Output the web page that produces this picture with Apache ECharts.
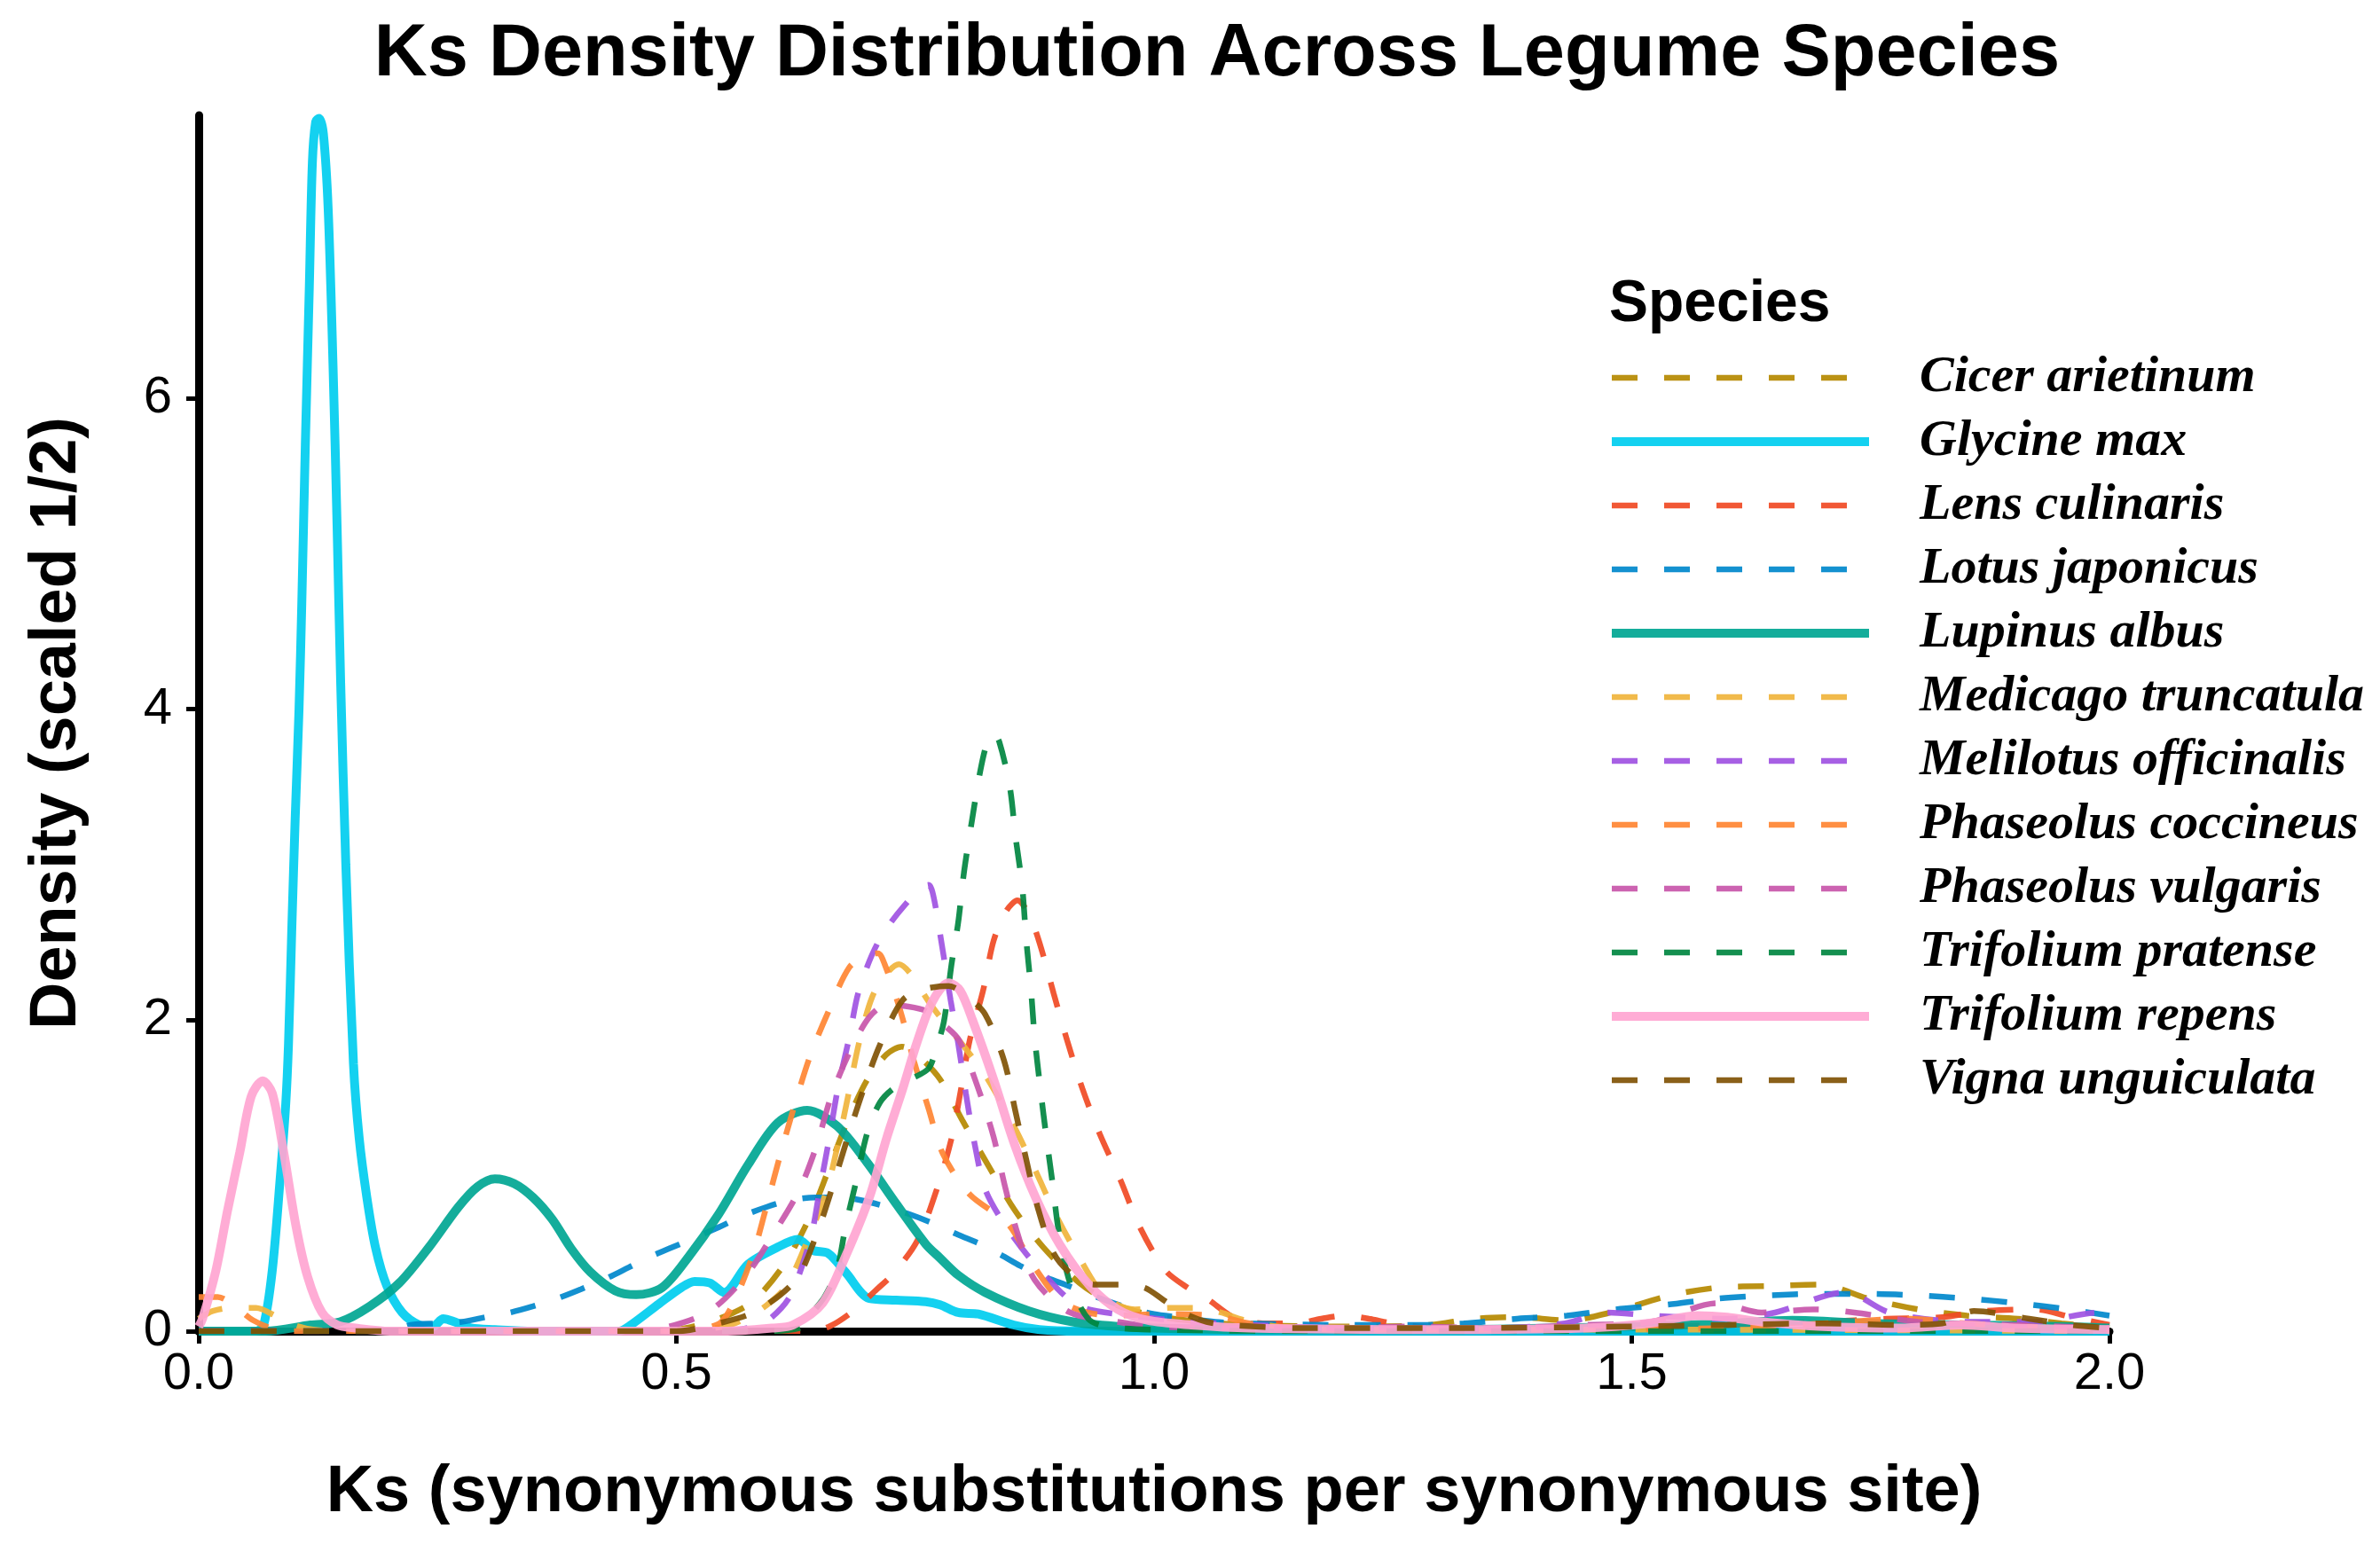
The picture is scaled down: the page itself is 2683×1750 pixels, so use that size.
<!DOCTYPE html>
<html>
<head>
<meta charset="utf-8">
<title>Ks Density Distribution Across Legume Species</title>
<script src="https://cdn.jsdelivr.net/npm/echarts@6/dist/echarts.min.js"></script>
<style>
  html, body { margin: 0; padding: 0; background: #fff; }
  #chart { width: 2683px; height: 1750px; }
</style>
</head>
<body>
<div id="chart"></div>
<script>
// species in legend order (alphabetical, same as drawing order)
const speciesNames = [
  'Cicer arietinum', 'Glycine max', 'Lens culinaris', 'Lotus japonicus',
  'Lupinus albus', 'Medicago truncatula', 'Melilotus officinalis',
  'Phaseolus coccineus', 'Phaseolus vulgaris', 'Trifolium pratense',
  'Trifolium repens', 'Vigna unguiculata'
];

const speciesColors = [
  '#B58900', '#00CDEF', '#F04A24', '#0088CC', '#00A693', '#F0B43C',
  '#A052E2', '#FF8533', '#C856AA', '#008540', '#FFA5D1', '#805205'
];

// solid lines for these, dashed for the rest
const solidSpecies = ['Glycine max', 'Lupinus albus', 'Trifolium repens'];

const xTickValues = [0, 0.5, 1.0, 1.5, 2.0];
const yTickValues = [0, 2, 4, 6];

// density curves: [Ks, density]
const cicerArietinum = [
  [0, 0], [0.45, 0], [0.5, 0.01], [0.535, 0.06], [0.56, 0.12], [0.582, 0.20], [0.614, 0.44],
  [0.64, 0.74], [0.66, 1.05], [0.679, 1.35], [0.70, 1.62], [0.72, 1.78], [0.736, 1.83],
  [0.755, 1.76], [0.776, 1.62], [0.799, 1.36], [0.826, 1.07], [0.854, 0.78], [0.884, 0.54],
  [0.922, 0.31], [0.956, 0.18], [1.0, 0.10], [1.05, 0.06], [1.1, 0.04], [1.2, 0.03],
  [1.289, 0.04], [1.334, 0.08], [1.38, 0.09], [1.432, 0.07], [1.478, 0.12], [1.54, 0.23],
  [1.59, 0.28], [1.642, 0.29], [1.698, 0.30], [1.747, 0.21], [1.80, 0.14], [1.851, 0.10],
  [1.904, 0.08], [1.95, 0.05], [2.0, 0.02]
];

const glycineMax = [
  [0, 0], [0.06, 0], [0.068, 0.04], [0.077, 0.39], [0.085, 0.96], [0.091, 1.45], [0.094, 1.85],
  [0.0975, 2.6], [0.101, 3.3], [0.105, 4.0], [0.1079, 4.68], [0.1116, 5.70], [0.1158, 6.72],
  [0.119, 7.52], [0.1225, 7.78], [0.126, 7.80], [0.1305, 7.70], [0.1355, 7.22], [0.1406, 6.21],
  [0.1448, 5.19], [0.1486, 4.17], [0.154, 3.0], [0.162, 1.72], [0.168, 1.24], [0.176, 0.86],
  [0.185, 0.54], [0.197, 0.29], [0.213, 0.12], [0.231, 0.04], [0.245, 0.03], [0.256, 0.08],
  [0.268, 0.06], [0.285, 0.02], [0.31, 0.01], [0.35, 0], [0.44, 0], [0.451, 0.034],
  [0.482, 0.177], [0.505, 0.28], [0.519, 0.32], [0.535, 0.31], [0.55, 0.25], [0.575, 0.43],
  [0.606, 0.54], [0.627, 0.59], [0.643, 0.52], [0.659, 0.50], [0.677, 0.38], [0.702, 0.21],
  [0.730, 0.20], [0.761, 0.19], [0.776, 0.17], [0.795, 0.12], [0.816, 0.11], [0.853, 0.04],
  [0.88, 0.01], [0.92, 0], [2.0, 0]
];

const lensCulinaris = [
  [0, 0], [0.64, 0], [0.66, 0.03], [0.683, 0.12], [0.71, 0.27], [0.727, 0.37], [0.752, 0.58],
  [0.773, 0.92], [0.788, 1.24], [0.798, 1.56], [0.807, 1.87], [0.821, 2.19], [0.832, 2.51],
  [0.845, 2.70], [0.857, 2.77], [0.869, 2.68], [0.880, 2.50], [0.895, 2.17], [0.909, 1.87],
  [0.925, 1.56], [0.943, 1.27], [0.965, 0.97], [0.985, 0.67], [1.012, 0.39], [1.035, 0.28],
  [1.055, 0.21], [1.086, 0.08], [1.12, 0.05], [1.148, 0.05], [1.175, 0.08], [1.20, 0.10],
  [1.225, 0.08], [1.25, 0.05], [1.3, 0.02], [1.4, 0.02], [1.5, 0.03], [1.6, 0.04], [1.7, 0.06],
  [1.767, 0.08], [1.825, 0.09], [1.871, 0.13], [1.923, 0.14], [1.96, 0.09], [2.0, 0.04]
];

const lotusJaponicus = [
  [0, 0], [0.2, 0], [0.222, 0.04], [0.25, 0.05], [0.275, 0.06], [0.30, 0.09], [0.326, 0.12],
  [0.35, 0.16], [0.375, 0.21], [0.40, 0.27], [0.427, 0.34], [0.45, 0.41], [0.473, 0.48],
  [0.496, 0.54], [0.519, 0.60], [0.545, 0.67], [0.569, 0.74], [0.595, 0.80], [0.618, 0.84],
  [0.645, 0.86], [0.671, 0.86], [0.695, 0.84], [0.720, 0.80], [0.745, 0.75], [0.770, 0.69],
  [0.795, 0.62], [0.818, 0.56], [0.840, 0.49], [0.860, 0.42], [0.885, 0.35], [0.911, 0.29],
  [0.94, 0.22], [0.968, 0.16], [1.0, 0.11], [1.025, 0.09], [1.064, 0.06], [1.1, 0.05],
  [1.2, 0.04], [1.28, 0.04], [1.324, 0.05], [1.38, 0.08], [1.432, 0.10], [1.483, 0.14],
  [1.537, 0.17], [1.59, 0.21], [1.645, 0.23], [1.694, 0.24], [1.747, 0.24], [1.80, 0.23],
  [1.851, 0.21], [1.904, 0.18], [1.957, 0.14], [2.0, 0.10]
];

const lupinusAlbus = [
  [0, 0], [0.07, 0], [0.117, 0.04], [0.148, 0.06], [0.179, 0.16], [0.210, 0.31], [0.241, 0.54],
  [0.272, 0.80], [0.292, 0.93], [0.310, 0.98], [0.330, 0.95], [0.350, 0.86], [0.370, 0.72],
  [0.390, 0.53], [0.410, 0.38], [0.436, 0.26], [0.458, 0.235], [0.485, 0.28], [0.513, 0.48],
  [0.544, 0.75], [0.575, 1.07], [0.606, 1.34], [0.637, 1.42], [0.668, 1.32], [0.699, 1.09],
  [0.730, 0.82], [0.761, 0.56], [0.776, 0.47], [0.795, 0.36], [0.823, 0.25], [0.869, 0.13],
  [0.915, 0.06], [0.962, 0.03], [1.0, 0.02], [1.1, 0.01], [1.3, 0.01], [1.5, 0.03], [1.6, 0.05],
  [1.668, 0.07], [1.75, 0.05], [1.85, 0.04], [1.95, 0.03], [2.0, 0.02]
];

const medicagoTruncatula = [
  [0, 0.08], [0.015, 0.13], [0.035, 0.15], [0.06, 0.15], [0.08, 0.10], [0.10, 0.04], [0.12, 0.01],
  [0.15, 0], [0.5, 0], [0.55, 0.03], [0.572, 0.08], [0.595, 0.17], [0.615, 0.29], [0.635, 0.55],
  [0.657, 0.90], [0.669, 1.20], [0.680, 1.52], [0.691, 1.85], [0.705, 2.15], [0.72, 2.30],
  [0.733, 2.36], [0.745, 2.30], [0.764, 2.12], [0.785, 1.95], [0.805, 1.80], [0.826, 1.62],
  [0.854, 1.31], [0.876, 1.03], [0.897, 0.75], [0.921, 0.48], [0.949, 0.22], [0.98, 0.14],
  [1.02, 0.15], [1.048, 0.15], [1.07, 0.12], [1.095, 0.07], [1.13, 0.03], [1.2, 0.01],
  [1.5, 0.01], [2.0, 0]
];

const melilotusOfficinalis = [
  [0, 0], [0.55, 0], [0.59, 0.05], [0.61, 0.15], [0.622, 0.26], [0.641, 0.61], [0.650, 0.91],
  [0.660, 1.24], [0.669, 1.56], [0.681, 1.89], [0.691, 2.19], [0.711, 2.50], [0.739, 2.74],
  [0.764, 2.87], [0.769, 2.80], [0.778, 2.48], [0.787, 2.13], [0.795, 1.85], [0.803, 1.53],
  [0.812, 1.21], [0.824, 0.90], [0.850, 0.63], [0.884, 0.37], [0.922, 0.16], [0.977, 0.10],
  [1.02, 0.07], [1.064, 0.05], [1.1, 0.04], [1.2, 0.02], [1.35, 0.02], [1.43, 0.05],
  [1.475, 0.12], [1.52, 0.10], [1.6, 0.08], [1.65, 0.12], [1.724, 0.25], [1.77, 0.12],
  [1.85, 0.06], [1.92, 0.06], [1.99, 0.12], [2.0, 0.12]
];

const phaseolusCoccineus = [
  [0, 0.22], [0.02, 0.22], [0.04, 0.15], [0.057, 0.07], [0.08, 0.01], [0.1, 0], [0.5, 0],
  [0.53, 0.02], [0.547, 0.06], [0.562, 0.21], [0.581, 0.51], [0.595, 0.82], [0.609, 1.14],
  [0.624, 1.46], [0.640, 1.77], [0.658, 2.04], [0.681, 2.34], [0.700, 2.42], [0.711, 2.43],
  [0.718, 2.36], [0.734, 2.07], [0.749, 1.73], [0.764, 1.43], [0.779, 1.14], [0.807, 0.88],
  [0.847, 0.69], [0.875, 0.41], [0.906, 0.18], [0.955, 0.10], [1.011, 0.11], [1.064, 0.10],
  [1.10, 0.05], [1.15, 0.02], [1.3, 0.01], [1.6, 0.02], [1.70, 0.05], [1.792, 0.08],
  [1.85, 0.05], [1.95, 0.02], [2.0, 0.01]
];

const phaseolusVulgaris = [
  [0, 0], [0.45, 0], [0.492, 0.03], [0.535, 0.13], [0.572, 0.35], [0.600, 0.61], [0.628, 0.90],
  [0.646, 1.18], [0.662, 1.51], [0.681, 1.79], [0.702, 2.02], [0.721, 2.10], [0.740, 2.09],
  [0.761, 2.06], [0.78, 1.97], [0.796, 1.87], [0.816, 1.56], [0.832, 1.25], [0.844, 0.93],
  [0.857, 0.63], [0.875, 0.33], [0.912, 0.12], [0.962, 0.06], [1.0, 0.03], [1.1, 0.02],
  [1.2, 0.02], [1.27, 0.03], [1.35, 0.02], [1.45, 0.04], [1.52, 0.06], [1.59, 0.18],
  [1.636, 0.12], [1.69, 0.14], [1.733, 0.12], [1.8, 0.06], [1.9, 0.04], [2.0, 0.02]
];

const trifoliumPratense = [
  [0, 0], [0.60, 0], [0.634, 0.03], [0.640, 0.10], [0.655, 0.22], [0.668, 0.39], [0.677, 0.67],
  [0.688, 0.96], [0.700, 1.28], [0.713, 1.47], [0.727, 1.56], [0.745, 1.62], [0.764, 1.69],
  [0.772, 1.82], [0.780, 1.99], [0.788, 2.36], [0.795, 2.63], [0.801, 2.95], [0.809, 3.27],
  [0.818, 3.60], [0.826, 3.80], [0.832, 3.84], [0.838, 3.79], [0.849, 3.50], [0.855, 3.18],
  [0.862, 2.86], [0.866, 2.53], [0.871, 2.21], [0.875, 1.89], [0.881, 1.56], [0.887, 1.26],
  [0.894, 0.94], [0.900, 0.65], [0.912, 0.31], [0.931, 0.08], [0.95, 0.03], [1.0, 0.01],
  [1.2, 0], [2.0, 0]
];

const trifoliumRepens = [
  [0, 0.03], [0.004, 0.08], [0.018, 0.39], [0.030, 0.77], [0.043, 1.15], [0.055, 1.51],
  [0.067, 1.61], [0.077, 1.53], [0.089, 1.15], [0.102, 0.67], [0.114, 0.35], [0.129, 0.12],
  [0.145, 0.04], [0.164, 0.02], [0.2, 0], [0.55, 0], [0.6, 0.02], [0.622, 0.04], [0.653, 0.18],
  [0.677, 0.48], [0.702, 0.86], [0.72, 1.24], [0.737, 1.56], [0.752, 1.86], [0.768, 2.12],
  [0.785, 2.24], [0.797, 2.19], [0.810, 2.0], [0.832, 1.62], [0.854, 1.20], [0.876, 0.86],
  [0.901, 0.56], [0.933, 0.29], [0.962, 0.14], [0.993, 0.07], [1.039, 0.04], [1.1, 0.02],
  [1.3, 0.01], [1.45, 0.02], [1.517, 0.05], [1.569, 0.10], [1.60, 0.09], [1.636, 0.06],
  [1.70, 0.03], [1.78, 0.02], [1.845, 0.04], [1.9, 0.02], [2.0, 0.01]
];

const vignaUnguiculata = [
  [0, 0], [0.5, 0], [0.544, 0.05], [0.584, 0.13], [0.625, 0.33], [0.646, 0.61], [0.663, 0.92],
  [0.678, 1.22], [0.695, 1.54], [0.713, 1.84], [0.737, 2.13], [0.76, 2.20], [0.785, 2.22],
  [0.805, 2.15], [0.823, 2.04], [0.843, 1.74], [0.855, 1.41], [0.866, 1.11], [0.878, 0.80],
  [0.895, 0.50], [0.915, 0.36], [0.937, 0.30], [0.965, 0.30], [0.990, 0.28], [1.010, 0.20],
  [1.030, 0.12], [1.055, 0.06], [1.080, 0.04], [1.15, 0.02], [1.3, 0.02], [1.5, 0.03],
  [1.6, 0.04], [1.7, 0.05], [1.78, 0.04], [1.825, 0.05], [1.858, 0.13], [1.916, 0.08],
  [1.96, 0.04], [2.0, 0.02]
];

const speciesData = [
  cicerArietinum, glycineMax, lensCulinaris, lotusJaponicus, lupinusAlbus, medicagoTruncatula,
  melilotusOfficinalis, phaseolusCoccineus, phaseolusVulgaris, trifoliumPratense,
  trifoliumRepens, vignaUnguiculata
];

const SANS = '"Liberation Sans", Arial, sans-serif';
const SERIF = '"Liberation Serif", "Times New Roman", serif';

const chart = echarts.init(document.getElementById('chart'), null, { renderer: 'canvas' });

const series = speciesNames.map(function (name, i) {
  const solid = solidSpecies.indexOf(name) >= 0;
  return {
    name: name,
    type: 'line',
    data: speciesData[i],
    smooth: 0.3,
    symbol: 'none',
    clip: true,
    itemStyle: { color: speciesColors[i] },
    lineStyle: {
      color: speciesColors[i],
      width: solid ? 10 : 6.5,
      type: solid ? 'solid' : [29, 30],
      opacity: 0.92,
      cap: 'butt'
    },
    emphasis: { disabled: true }
  };
});

const option = {
  animation: false,
  backgroundColor: '#ffffff',
  grid: { left: 224, right: 305, top: 130, bottom: 249, containLabel: false },
  graphic: [
    {
      type: 'text', x: 1372, y: 62,
      style: {
        text: 'Ks Density Distribution Across Legume Species',
        font: 'bold 83px ' + SANS, fill: '#000',
        textAlign: 'center', textVerticalAlign: 'middle'
      }
    },
    {
      type: 'text', x: 1814, y: 344,
      style: {
        text: 'Species', font: 'bold 66px ' + SANS, fill: '#000',
        textAlign: 'left', textVerticalAlign: 'middle'
      }
    }
  ],
  legend: {
    orient: 'vertical',
    left: 1812,
    top: 390,
    padding: 0,
    itemGap: 0,
    itemWidth: 290,
    itemHeight: 2,
    selectedMode: false,
    data: speciesNames,
    itemStyle: { opacity: 0 },
    lineStyle: { width: 'inherit' },
    textStyle: {
      fontFamily: SERIF, fontStyle: 'italic', fontWeight: 'bold',
      fontSize: 58, color: '#000', lineHeight: 72,
      padding: [0, 0, 0, 52]
    }
  },
  xAxis: {
    type: 'value',
    min: 0, max: 2, interval: 0.5,
    name: 'Ks (synonymous substitutions per synonymous site)',
    nameLocation: 'middle',
    nameGap: 146,
    nameTextStyle: { fontFamily: SANS, fontWeight: 'bold', fontSize: 74, color: '#000' },
    axisLine: { show: true, onZero: false, lineStyle: { color: '#000', width: 9 } },
    axisTick: { show: true, length: 14, lineStyle: { color: '#000', width: 5 } },
    axisLabel: {
      fontFamily: SANS, fontSize: 58, color: '#000', margin: 20,
      customValues: xTickValues,
      formatter: function (v) { return v.toFixed(1); }
    },
    splitLine: { show: false }
  },
  yAxis: {
    type: 'value',
    min: 0, max: 7.82,
    name: 'Density (scaled 1/2)',
    nameLocation: 'middle',
    nameGap: 122,
    nameTextStyle: { fontFamily: SANS, fontWeight: 'bold', fontSize: 74, color: '#000' },
    axisLine: { show: true, onZero: false, lineStyle: { color: '#000', width: 9 } },
    axisTick: { show: true, length: 14, customValues: yTickValues, lineStyle: { color: '#000', width: 5 } },
    axisLabel: {
      fontFamily: SANS, fontSize: 58, color: '#000', margin: 30,
      customValues: yTickValues
    },
    splitLine: { show: false }
  },
  series: series
};

chart.setOption(option);
</script>
</body>
</html>
